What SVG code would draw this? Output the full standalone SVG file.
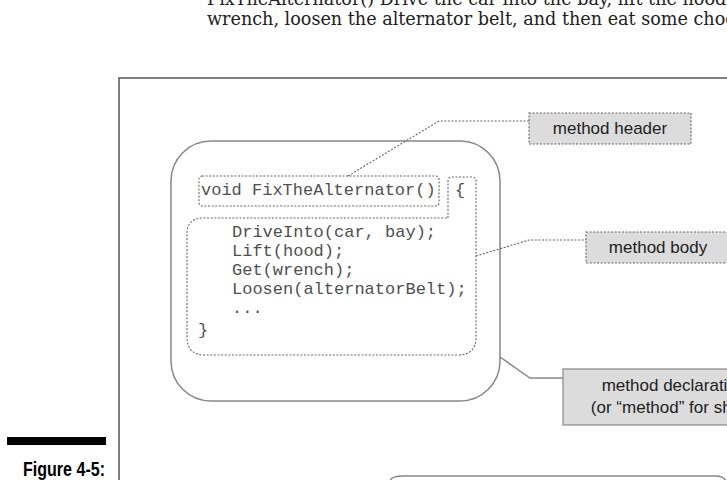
<svg xmlns="http://www.w3.org/2000/svg" width="727" height="480" viewBox="0 0 727 480">
<style>
.body{font-family:"DejaVu Serif","Liberation Serif",serif;font-size:17.6px;fill:#222}
.code{font-family:"Liberation Mono","Courier New",monospace;font-size:17px;fill:#505050}
.lbl{font-family:"Liberation Sans",Arial,sans-serif;font-size:17px;fill:#222;text-anchor:middle}
.dash{fill:none;stroke:#666;stroke-width:1.1;stroke-dasharray:2 1.6}
.dashbox{fill:#dcdcdc;stroke:#666;stroke-width:1.1;stroke-dasharray:2 1.6}
.solid{fill:none;stroke:#888;stroke-width:1.5}
</style>
<rect width="727" height="480" fill="#fff"/>
<text class="body" x="207" y="5">FixTheAlternator() Drive the car into the bay, lift the hood, get the</text>
<text class="body" x="207" y="25">wrench, loosen the alternator belt, and then eat some chocolate</text>
<rect x="7" y="437" width="99" height="8" fill="#000"/>
<text x="105" y="476" text-anchor="end" textLength="82" lengthAdjust="spacingAndGlyphs" style="font-family:'Liberation Sans',Arial,sans-serif;font-weight:bold;font-size:20px;fill:#000">Figure 4-5:</text>
<path d="M119 480 V78 H730" fill="none" stroke="#555" stroke-width="1.5"/>
<g id="declaration">
<rect x="171" y="141" width="329" height="260" rx="40" class="solid" stroke="#777"/>
</g>
<g id="header">
<rect x="199" y="176" width="240" height="30" rx="3" class="dash"/>
<text class="code" x="201" y="195">void FixTheAlternator()</text>
</g>
<g id="body">
<path class="dash" d="M448 218 V181 Q448 177 452 177 H472 Q476 177 476 181 V337 Q476 355 458 355 H205 Q187 355 187 337 V234 Q187 218 203 218 Z"/>
<text class="code" x="455" y="195">{</text>
<text class="code" x="232" y="237">DriveInto(car, bay);</text>
<text class="code" x="232" y="256">Lift(hood);</text>
<text class="code" x="232" y="275">Get(wrench);</text>
<text class="code" x="232" y="294">Loosen(alternatorBelt);</text>
<text class="code" x="232" y="313">...</text>
<text class="code" x="198" y="335">}</text>
</g>
<g id="label-header">
<rect x="529" y="113" width="162" height="31" class="dashbox"/>
<text class="lbl" x="610" y="134">method header</text>
</g>
<g id="label-body">
<rect x="586" y="232" width="144" height="31" class="dashbox"/>
<text class="lbl" x="658" y="253">method body</text>
</g>
<g id="label-declaration">
<rect x="563" y="369" width="222" height="56" fill="#dcdcdc" stroke="#888" stroke-width="1.2"/>
<text class="lbl" x="674" y="391">method declaration</text>
<text class="lbl" x="674" y="413">(or “method” for short)</text>
</g>
<g id="next">
<path d="M390 481 Q391 476 403 476 H715 Q724 476 726 481" class="solid"/>
</g>
<g id="connectors">
<path class="dash" d="M348 176 L439 121 H529"/>
<path class="dash" d="M476 256 L529 240 H586"/>
<path class="solid" d="M500 357 L530 378 H563"/>
</g>
</svg>
